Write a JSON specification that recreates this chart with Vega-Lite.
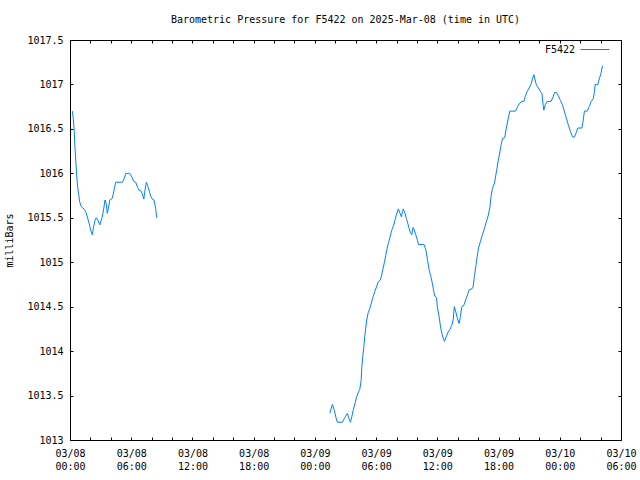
{
  "$schema": "https://vega.github.io/schema/vega-lite/v6.json",
  "width": 551,
  "height": 400,
  "autosize": {"type": "none"},
  "padding": {"left": 70, "top": 40, "right": 19, "bottom": 40},
  "background": "white",
  "title": {
    "text": "Barometric Pressure for F5422 on 2025-Mar-08 (time in UTC)",
    "font": "DejaVu Sans Mono",
    "fontSize": 10,
    "fontWeight": "normal",
    "color": "black",
    "anchor": "middle",
    "offset": 10
  },
  "config": {
    "view": {"stroke": "black", "strokeWidth": 1},
    "font": "DejaVu Sans Mono",
    "axis": {
      "labelFont": "DejaVu Sans Mono",
      "labelFontSize": 10,
      "labelColor": "black",
      "titleFont": "DejaVu Sans Mono",
      "titleFontSize": 10,
      "titleFontWeight": "normal",
      "titleColor": "black",
      "tickColor": "black",
      "tickWidth": 1,
      "domain": false,
      "grid": false
    },
    "legend": {
      "labelFont": "DejaVu Sans Mono",
      "labelFontSize": 10,
      "labelColor": "black"
    }
  },
  "data": {
    "values": [
      {"t": "2025-03-08T00:14:00Z", "p": 1016.7, "seg": 1, "station": "F5422"},
      {"t": "2025-03-08T00:19:00Z", "p": 1016.62, "seg": 1, "station": "F5422"},
      {"t": "2025-03-08T00:25:00Z", "p": 1016.47, "seg": 1, "station": "F5422"},
      {"t": "2025-03-08T00:29:00Z", "p": 1016.3, "seg": 1, "station": "F5422"},
      {"t": "2025-03-08T00:34:00Z", "p": 1016.14, "seg": 1, "station": "F5422"},
      {"t": "2025-03-08T00:39:00Z", "p": 1015.98, "seg": 1, "station": "F5422"},
      {"t": "2025-03-08T00:45:00Z", "p": 1015.85, "seg": 1, "station": "F5422"},
      {"t": "2025-03-08T00:51:00Z", "p": 1015.76, "seg": 1, "station": "F5422"},
      {"t": "2025-03-08T00:57:00Z", "p": 1015.68, "seg": 1, "station": "F5422"},
      {"t": "2025-03-08T01:03:00Z", "p": 1015.64, "seg": 1, "station": "F5422"},
      {"t": "2025-03-08T01:09:00Z", "p": 1015.62, "seg": 1, "station": "F5422"},
      {"t": "2025-03-08T01:22:00Z", "p": 1015.6, "seg": 1, "station": "F5422"},
      {"t": "2025-03-08T01:32:00Z", "p": 1015.57, "seg": 1, "station": "F5422"},
      {"t": "2025-03-08T01:42:00Z", "p": 1015.51, "seg": 1, "station": "F5422"},
      {"t": "2025-03-08T01:52:00Z", "p": 1015.44, "seg": 1, "station": "F5422"},
      {"t": "2025-03-08T02:02:00Z", "p": 1015.36, "seg": 1, "station": "F5422"},
      {"t": "2025-03-08T02:11:00Z", "p": 1015.31, "seg": 1, "station": "F5422"},
      {"t": "2025-03-08T02:19:00Z", "p": 1015.4, "seg": 1, "station": "F5422"},
      {"t": "2025-03-08T02:27:00Z", "p": 1015.47, "seg": 1, "station": "F5422"},
      {"t": "2025-03-08T02:35:00Z", "p": 1015.5, "seg": 1, "station": "F5422"},
      {"t": "2025-03-08T02:45:00Z", "p": 1015.47, "seg": 1, "station": "F5422"},
      {"t": "2025-03-08T02:55:00Z", "p": 1015.42, "seg": 1, "station": "F5422"},
      {"t": "2025-03-08T03:10:00Z", "p": 1015.51, "seg": 1, "station": "F5422"},
      {"t": "2025-03-08T03:18:00Z", "p": 1015.6, "seg": 1, "station": "F5422"},
      {"t": "2025-03-08T03:26:00Z", "p": 1015.7, "seg": 1, "station": "F5422"},
      {"t": "2025-03-08T03:34:00Z", "p": 1015.65, "seg": 1, "station": "F5422"},
      {"t": "2025-03-08T03:39:00Z", "p": 1015.55, "seg": 1, "station": "F5422"},
      {"t": "2025-03-08T03:45:00Z", "p": 1015.6, "seg": 1, "station": "F5422"},
      {"t": "2025-03-08T03:54:00Z", "p": 1015.7, "seg": 1, "station": "F5422"},
      {"t": "2025-03-08T04:09:00Z", "p": 1015.72, "seg": 1, "station": "F5422"},
      {"t": "2025-03-08T04:19:00Z", "p": 1015.81, "seg": 1, "station": "F5422"},
      {"t": "2025-03-08T04:29:00Z", "p": 1015.9, "seg": 1, "station": "F5422"},
      {"t": "2025-03-08T05:08:00Z", "p": 1015.9, "seg": 1, "station": "F5422"},
      {"t": "2025-03-08T05:18:00Z", "p": 1015.94, "seg": 1, "station": "F5422"},
      {"t": "2025-03-08T05:28:00Z", "p": 1016.0, "seg": 1, "station": "F5422"},
      {"t": "2025-03-08T05:51:00Z", "p": 1016.0, "seg": 1, "station": "F5422"},
      {"t": "2025-03-08T06:03:00Z", "p": 1015.96, "seg": 1, "station": "F5422"},
      {"t": "2025-03-08T06:15:00Z", "p": 1015.91, "seg": 1, "station": "F5422"},
      {"t": "2025-03-08T06:26:00Z", "p": 1015.9, "seg": 1, "station": "F5422"},
      {"t": "2025-03-08T06:38:00Z", "p": 1015.84, "seg": 1, "station": "F5422"},
      {"t": "2025-03-08T06:46:00Z", "p": 1015.81, "seg": 1, "station": "F5422"},
      {"t": "2025-03-08T06:58:00Z", "p": 1015.8, "seg": 1, "station": "F5422"},
      {"t": "2025-03-08T07:05:00Z", "p": 1015.77, "seg": 1, "station": "F5422"},
      {"t": "2025-03-08T07:14:00Z", "p": 1015.71, "seg": 1, "station": "F5422"},
      {"t": "2025-03-08T07:21:00Z", "p": 1015.81, "seg": 1, "station": "F5422"},
      {"t": "2025-03-08T07:29:00Z", "p": 1015.9, "seg": 1, "station": "F5422"},
      {"t": "2025-03-08T07:37:00Z", "p": 1015.86, "seg": 1, "station": "F5422"},
      {"t": "2025-03-08T07:45:00Z", "p": 1015.81, "seg": 1, "station": "F5422"},
      {"t": "2025-03-08T07:55:00Z", "p": 1015.74, "seg": 1, "station": "F5422"},
      {"t": "2025-03-08T08:04:00Z", "p": 1015.71, "seg": 1, "station": "F5422"},
      {"t": "2025-03-08T08:14:00Z", "p": 1015.7, "seg": 1, "station": "F5422"},
      {"t": "2025-03-08T08:24:00Z", "p": 1015.6, "seg": 1, "station": "F5422"},
      {"t": "2025-03-08T08:30:00Z", "p": 1015.5, "seg": 1, "station": "F5422"},
      {"t": "2025-03-09T01:28:00Z", "p": 1013.3, "seg": 2, "station": "F5422"},
      {"t": "2025-03-09T01:43:00Z", "p": 1013.4, "seg": 2, "station": "F5422"},
      {"t": "2025-03-09T01:55:00Z", "p": 1013.33, "seg": 2, "station": "F5422"},
      {"t": "2025-03-09T02:03:00Z", "p": 1013.26, "seg": 2, "station": "F5422"},
      {"t": "2025-03-09T02:12:00Z", "p": 1013.2, "seg": 2, "station": "F5422"},
      {"t": "2025-03-09T02:42:00Z", "p": 1013.2, "seg": 2, "station": "F5422"},
      {"t": "2025-03-09T02:53:00Z", "p": 1013.24, "seg": 2, "station": "F5422"},
      {"t": "2025-03-09T03:02:00Z", "p": 1013.27, "seg": 2, "station": "F5422"},
      {"t": "2025-03-09T03:11:00Z", "p": 1013.3, "seg": 2, "station": "F5422"},
      {"t": "2025-03-09T03:21:00Z", "p": 1013.24, "seg": 2, "station": "F5422"},
      {"t": "2025-03-09T03:29:00Z", "p": 1013.2, "seg": 2, "station": "F5422"},
      {"t": "2025-03-09T03:37:00Z", "p": 1013.26, "seg": 2, "station": "F5422"},
      {"t": "2025-03-09T03:46:00Z", "p": 1013.34, "seg": 2, "station": "F5422"},
      {"t": "2025-03-09T03:56:00Z", "p": 1013.41, "seg": 2, "station": "F5422"},
      {"t": "2025-03-09T04:06:00Z", "p": 1013.49, "seg": 2, "station": "F5422"},
      {"t": "2025-03-09T04:16:00Z", "p": 1013.54, "seg": 2, "station": "F5422"},
      {"t": "2025-03-09T04:24:00Z", "p": 1013.57, "seg": 2, "station": "F5422"},
      {"t": "2025-03-09T04:32:00Z", "p": 1013.67, "seg": 2, "station": "F5422"},
      {"t": "2025-03-09T04:36:00Z", "p": 1013.82, "seg": 2, "station": "F5422"},
      {"t": "2025-03-09T04:42:00Z", "p": 1013.95, "seg": 2, "station": "F5422"},
      {"t": "2025-03-09T04:48:00Z", "p": 1014.05, "seg": 2, "station": "F5422"},
      {"t": "2025-03-09T04:53:00Z", "p": 1014.16, "seg": 2, "station": "F5422"},
      {"t": "2025-03-09T04:59:00Z", "p": 1014.26, "seg": 2, "station": "F5422"},
      {"t": "2025-03-09T05:05:00Z", "p": 1014.35, "seg": 2, "station": "F5422"},
      {"t": "2025-03-09T05:13:00Z", "p": 1014.43, "seg": 2, "station": "F5422"},
      {"t": "2025-03-09T05:23:00Z", "p": 1014.48, "seg": 2, "station": "F5422"},
      {"t": "2025-03-09T05:32:00Z", "p": 1014.54, "seg": 2, "station": "F5422"},
      {"t": "2025-03-09T05:42:00Z", "p": 1014.61, "seg": 2, "station": "F5422"},
      {"t": "2025-03-09T05:52:00Z", "p": 1014.67, "seg": 2, "station": "F5422"},
      {"t": "2025-03-09T06:02:00Z", "p": 1014.72, "seg": 2, "station": "F5422"},
      {"t": "2025-03-09T06:12:00Z", "p": 1014.78, "seg": 2, "station": "F5422"},
      {"t": "2025-03-09T06:25:00Z", "p": 1014.8, "seg": 2, "station": "F5422"},
      {"t": "2025-03-09T06:33:00Z", "p": 1014.86, "seg": 2, "station": "F5422"},
      {"t": "2025-03-09T06:41:00Z", "p": 1014.93, "seg": 2, "station": "F5422"},
      {"t": "2025-03-09T06:49:00Z", "p": 1015.0, "seg": 2, "station": "F5422"},
      {"t": "2025-03-09T06:57:00Z", "p": 1015.08, "seg": 2, "station": "F5422"},
      {"t": "2025-03-09T07:05:00Z", "p": 1015.16, "seg": 2, "station": "F5422"},
      {"t": "2025-03-09T07:12:00Z", "p": 1015.21, "seg": 2, "station": "F5422"},
      {"t": "2025-03-09T07:20:00Z", "p": 1015.27, "seg": 2, "station": "F5422"},
      {"t": "2025-03-09T07:28:00Z", "p": 1015.33, "seg": 2, "station": "F5422"},
      {"t": "2025-03-09T07:36:00Z", "p": 1015.38, "seg": 2, "station": "F5422"},
      {"t": "2025-03-09T07:44:00Z", "p": 1015.42, "seg": 2, "station": "F5422"},
      {"t": "2025-03-09T07:52:00Z", "p": 1015.48, "seg": 2, "station": "F5422"},
      {"t": "2025-03-09T07:59:00Z", "p": 1015.53, "seg": 2, "station": "F5422"},
      {"t": "2025-03-09T08:11:00Z", "p": 1015.6, "seg": 2, "station": "F5422"},
      {"t": "2025-03-09T08:21:00Z", "p": 1015.55, "seg": 2, "station": "F5422"},
      {"t": "2025-03-09T08:29:00Z", "p": 1015.51, "seg": 2, "station": "F5422"},
      {"t": "2025-03-09T08:35:00Z", "p": 1015.57, "seg": 2, "station": "F5422"},
      {"t": "2025-03-09T08:40:00Z", "p": 1015.6, "seg": 2, "station": "F5422"},
      {"t": "2025-03-09T08:50:00Z", "p": 1015.55, "seg": 2, "station": "F5422"},
      {"t": "2025-03-09T08:58:00Z", "p": 1015.49, "seg": 2, "station": "F5422"},
      {"t": "2025-03-09T09:06:00Z", "p": 1015.44, "seg": 2, "station": "F5422"},
      {"t": "2025-03-09T09:14:00Z", "p": 1015.38, "seg": 2, "station": "F5422"},
      {"t": "2025-03-09T09:22:00Z", "p": 1015.33, "seg": 2, "station": "F5422"},
      {"t": "2025-03-09T09:30:00Z", "p": 1015.31, "seg": 2, "station": "F5422"},
      {"t": "2025-03-09T09:37:00Z", "p": 1015.39, "seg": 2, "station": "F5422"},
      {"t": "2025-03-09T09:43:00Z", "p": 1015.37, "seg": 2, "station": "F5422"},
      {"t": "2025-03-09T09:53:00Z", "p": 1015.31, "seg": 2, "station": "F5422"},
      {"t": "2025-03-09T10:03:00Z", "p": 1015.25, "seg": 2, "station": "F5422"},
      {"t": "2025-03-09T10:09:00Z", "p": 1015.2, "seg": 2, "station": "F5422"},
      {"t": "2025-03-09T10:42:00Z", "p": 1015.2, "seg": 2, "station": "F5422"},
      {"t": "2025-03-09T10:52:00Z", "p": 1015.14, "seg": 2, "station": "F5422"},
      {"t": "2025-03-09T11:02:00Z", "p": 1015.03, "seg": 2, "station": "F5422"},
      {"t": "2025-03-09T11:12:00Z", "p": 1014.91, "seg": 2, "station": "F5422"},
      {"t": "2025-03-09T11:22:00Z", "p": 1014.84, "seg": 2, "station": "F5422"},
      {"t": "2025-03-09T11:31:00Z", "p": 1014.76, "seg": 2, "station": "F5422"},
      {"t": "2025-03-09T11:37:00Z", "p": 1014.69, "seg": 2, "station": "F5422"},
      {"t": "2025-03-09T11:45:00Z", "p": 1014.62, "seg": 2, "station": "F5422"},
      {"t": "2025-03-09T11:55:00Z", "p": 1014.6, "seg": 2, "station": "F5422"},
      {"t": "2025-03-09T12:00:00Z", "p": 1014.5, "seg": 2, "station": "F5422"},
      {"t": "2025-03-09T12:10:00Z", "p": 1014.39, "seg": 2, "station": "F5422"},
      {"t": "2025-03-09T12:20:00Z", "p": 1014.26, "seg": 2, "station": "F5422"},
      {"t": "2025-03-09T12:30:00Z", "p": 1014.17, "seg": 2, "station": "F5422"},
      {"t": "2025-03-09T12:42:00Z", "p": 1014.11, "seg": 2, "station": "F5422"},
      {"t": "2025-03-09T12:50:00Z", "p": 1014.15, "seg": 2, "station": "F5422"},
      {"t": "2025-03-09T13:02:00Z", "p": 1014.21, "seg": 2, "station": "F5422"},
      {"t": "2025-03-09T13:13:00Z", "p": 1014.24, "seg": 2, "station": "F5422"},
      {"t": "2025-03-09T13:25:00Z", "p": 1014.29, "seg": 2, "station": "F5422"},
      {"t": "2025-03-09T13:33:00Z", "p": 1014.35, "seg": 2, "station": "F5422"},
      {"t": "2025-03-09T13:40:00Z", "p": 1014.5, "seg": 2, "station": "F5422"},
      {"t": "2025-03-09T13:49:00Z", "p": 1014.44, "seg": 2, "station": "F5422"},
      {"t": "2025-03-09T13:58:00Z", "p": 1014.37, "seg": 2, "station": "F5422"},
      {"t": "2025-03-09T14:08:00Z", "p": 1014.31, "seg": 2, "station": "F5422"},
      {"t": "2025-03-09T14:16:00Z", "p": 1014.39, "seg": 2, "station": "F5422"},
      {"t": "2025-03-09T14:24:00Z", "p": 1014.5, "seg": 2, "station": "F5422"},
      {"t": "2025-03-09T14:37:00Z", "p": 1014.52, "seg": 2, "station": "F5422"},
      {"t": "2025-03-09T14:47:00Z", "p": 1014.58, "seg": 2, "station": "F5422"},
      {"t": "2025-03-09T14:57:00Z", "p": 1014.63, "seg": 2, "station": "F5422"},
      {"t": "2025-03-09T15:07:00Z", "p": 1014.69, "seg": 2, "station": "F5422"},
      {"t": "2025-03-09T15:23:00Z", "p": 1014.7, "seg": 2, "station": "F5422"},
      {"t": "2025-03-09T15:30:00Z", "p": 1014.72, "seg": 2, "station": "F5422"},
      {"t": "2025-03-09T15:38:00Z", "p": 1014.84, "seg": 2, "station": "F5422"},
      {"t": "2025-03-09T15:46:00Z", "p": 1014.95, "seg": 2, "station": "F5422"},
      {"t": "2025-03-09T15:54:00Z", "p": 1015.06, "seg": 2, "station": "F5422"},
      {"t": "2025-03-09T16:02:00Z", "p": 1015.16, "seg": 2, "station": "F5422"},
      {"t": "2025-03-09T16:13:00Z", "p": 1015.23, "seg": 2, "station": "F5422"},
      {"t": "2025-03-09T16:25:00Z", "p": 1015.31, "seg": 2, "station": "F5422"},
      {"t": "2025-03-09T16:37:00Z", "p": 1015.38, "seg": 2, "station": "F5422"},
      {"t": "2025-03-09T16:49:00Z", "p": 1015.46, "seg": 2, "station": "F5422"},
      {"t": "2025-03-09T17:00:00Z", "p": 1015.53, "seg": 2, "station": "F5422"},
      {"t": "2025-03-09T17:09:00Z", "p": 1015.62, "seg": 2, "station": "F5422"},
      {"t": "2025-03-09T17:16:00Z", "p": 1015.74, "seg": 2, "station": "F5422"},
      {"t": "2025-03-09T17:24:00Z", "p": 1015.83, "seg": 2, "station": "F5422"},
      {"t": "2025-03-09T17:36:00Z", "p": 1015.89, "seg": 2, "station": "F5422"},
      {"t": "2025-03-09T17:44:00Z", "p": 1015.98, "seg": 2, "station": "F5422"},
      {"t": "2025-03-09T17:52:00Z", "p": 1016.07, "seg": 2, "station": "F5422"},
      {"t": "2025-03-09T17:59:00Z", "p": 1016.15, "seg": 2, "station": "F5422"},
      {"t": "2025-03-09T18:08:00Z", "p": 1016.24, "seg": 2, "station": "F5422"},
      {"t": "2025-03-09T18:15:00Z", "p": 1016.32, "seg": 2, "station": "F5422"},
      {"t": "2025-03-09T18:23:00Z", "p": 1016.39, "seg": 2, "station": "F5422"},
      {"t": "2025-03-09T18:36:00Z", "p": 1016.4, "seg": 2, "station": "F5422"},
      {"t": "2025-03-09T18:45:00Z", "p": 1016.5, "seg": 2, "station": "F5422"},
      {"t": "2025-03-09T18:55:00Z", "p": 1016.6, "seg": 2, "station": "F5422"},
      {"t": "2025-03-09T19:06:00Z", "p": 1016.7, "seg": 2, "station": "F5422"},
      {"t": "2025-03-09T19:39:00Z", "p": 1016.7, "seg": 2, "station": "F5422"},
      {"t": "2025-03-09T19:52:00Z", "p": 1016.75, "seg": 2, "station": "F5422"},
      {"t": "2025-03-09T20:05:00Z", "p": 1016.79, "seg": 2, "station": "F5422"},
      {"t": "2025-03-09T20:17:00Z", "p": 1016.81, "seg": 2, "station": "F5422"},
      {"t": "2025-03-09T20:29:00Z", "p": 1016.81, "seg": 2, "station": "F5422"},
      {"t": "2025-03-09T20:36:00Z", "p": 1016.86, "seg": 2, "station": "F5422"},
      {"t": "2025-03-09T20:48:00Z", "p": 1016.92, "seg": 2, "station": "F5422"},
      {"t": "2025-03-09T21:00:00Z", "p": 1016.96, "seg": 2, "station": "F5422"},
      {"t": "2025-03-09T21:12:00Z", "p": 1017.01, "seg": 2, "station": "F5422"},
      {"t": "2025-03-09T21:19:00Z", "p": 1017.06, "seg": 2, "station": "F5422"},
      {"t": "2025-03-09T21:28:00Z", "p": 1017.11, "seg": 2, "station": "F5422"},
      {"t": "2025-03-09T21:35:00Z", "p": 1017.05, "seg": 2, "station": "F5422"},
      {"t": "2025-03-09T21:43:00Z", "p": 1016.99, "seg": 2, "station": "F5422"},
      {"t": "2025-03-09T21:55:00Z", "p": 1016.96, "seg": 2, "station": "F5422"},
      {"t": "2025-03-09T22:06:00Z", "p": 1016.92, "seg": 2, "station": "F5422"},
      {"t": "2025-03-09T22:15:00Z", "p": 1016.9, "seg": 2, "station": "F5422"},
      {"t": "2025-03-09T22:22:00Z", "p": 1016.77, "seg": 2, "station": "F5422"},
      {"t": "2025-03-09T22:26:00Z", "p": 1016.71, "seg": 2, "station": "F5422"},
      {"t": "2025-03-09T22:34:00Z", "p": 1016.77, "seg": 2, "station": "F5422"},
      {"t": "2025-03-09T22:46:00Z", "p": 1016.81, "seg": 2, "station": "F5422"},
      {"t": "2025-03-09T23:09:00Z", "p": 1016.81, "seg": 2, "station": "F5422"},
      {"t": "2025-03-09T23:21:00Z", "p": 1016.86, "seg": 2, "station": "F5422"},
      {"t": "2025-03-09T23:29:00Z", "p": 1016.91, "seg": 2, "station": "F5422"},
      {"t": "2025-03-09T23:40:00Z", "p": 1016.91, "seg": 2, "station": "F5422"},
      {"t": "2025-03-09T23:52:00Z", "p": 1016.87, "seg": 2, "station": "F5422"},
      {"t": "2025-03-10T00:04:00Z", "p": 1016.82, "seg": 2, "station": "F5422"},
      {"t": "2025-03-10T00:16:00Z", "p": 1016.77, "seg": 2, "station": "F5422"},
      {"t": "2025-03-10T00:28:00Z", "p": 1016.69, "seg": 2, "station": "F5422"},
      {"t": "2025-03-10T00:39:00Z", "p": 1016.62, "seg": 2, "station": "F5422"},
      {"t": "2025-03-10T00:51:00Z", "p": 1016.54, "seg": 2, "station": "F5422"},
      {"t": "2025-03-10T01:03:00Z", "p": 1016.47, "seg": 2, "station": "F5422"},
      {"t": "2025-03-10T01:15:00Z", "p": 1016.41, "seg": 2, "station": "F5422"},
      {"t": "2025-03-10T01:26:00Z", "p": 1016.41, "seg": 2, "station": "F5422"},
      {"t": "2025-03-10T01:35:00Z", "p": 1016.45, "seg": 2, "station": "F5422"},
      {"t": "2025-03-10T01:46:00Z", "p": 1016.51, "seg": 2, "station": "F5422"},
      {"t": "2025-03-10T02:10:00Z", "p": 1016.51, "seg": 2, "station": "F5422"},
      {"t": "2025-03-10T02:18:00Z", "p": 1016.6, "seg": 2, "station": "F5422"},
      {"t": "2025-03-10T02:25:00Z", "p": 1016.7, "seg": 2, "station": "F5422"},
      {"t": "2025-03-10T02:41:00Z", "p": 1016.7, "seg": 2, "station": "F5422"},
      {"t": "2025-03-10T02:53:00Z", "p": 1016.75, "seg": 2, "station": "F5422"},
      {"t": "2025-03-10T03:05:00Z", "p": 1016.81, "seg": 2, "station": "F5422"},
      {"t": "2025-03-10T03:17:00Z", "p": 1016.84, "seg": 2, "station": "F5422"},
      {"t": "2025-03-10T03:24:00Z", "p": 1016.92, "seg": 2, "station": "F5422"},
      {"t": "2025-03-10T03:28:00Z", "p": 1017.0, "seg": 2, "station": "F5422"},
      {"t": "2025-03-10T03:44:00Z", "p": 1017.0, "seg": 2, "station": "F5422"},
      {"t": "2025-03-10T03:52:00Z", "p": 1017.06, "seg": 2, "station": "F5422"},
      {"t": "2025-03-10T04:02:00Z", "p": 1017.12, "seg": 2, "station": "F5422"},
      {"t": "2025-03-10T04:11:00Z", "p": 1017.21, "seg": 2, "station": "F5422"}
    ]
  },
  "layer": [
    {
      "mark": {"type": "line", "strokeWidth": 1, "interpolate": "linear"},
      "encoding": {
        "x": {
          "field": "t",
          "type": "temporal",
          "scale": {
            "type": "utc",
            "nice": false,
            "domain": [1741392000000, 1741586400000]
          },
          "axis": {
            "orient": "bottom",
            "title": null,
            "values": [1741392000000, 1741399200000, 1741406400000, 1741413600000, 1741420800000, 1741428000000, 1741435200000, 1741442400000, 1741449600000, 1741456800000, 1741464000000, 1741471200000, 1741478400000, 1741485600000, 1741492800000, 1741500000000, 1741507200000, 1741514400000, 1741521600000, 1741528800000, 1741536000000, 1741543200000, 1741550400000, 1741557600000, 1741564800000, 1741572000000, 1741579200000, 1741586400000],
            "tickSize": -3,
            "labelPadding": 11,
            "labelOverlap": false,
            "labelFlush": false,
            "labelBound": false,
            "labelLineHeight": 13,
            "labelExpr": "utchours(datum.value) % 6 == 0 ? [utcFormat(datum.value, '%m/%d'), utcFormat(datum.value, '%H:%M')] : ''"
          }
        },
        "y": {
          "field": "p",
          "type": "quantitative",
          "scale": {"domain": [1013, 1017.5], "nice": false, "zero": false},
          "axis": {
            "orient": "left",
            "title": "milliBars",
            "values": [1013, 1013.5, 1014, 1014.5, 1015, 1015.5, 1016, 1016.5, 1017, 1017.5],
            "format": ".1~f",
            "tickSize": -3,
            "labelPadding": 10,
            "labelOverlap": false,
            "labelFlush": false,
            "labelBound": false,
            "titlePadding": 12
          }
        },
        "detail": {"field": "seg", "type": "nominal"},
        "color": {
          "field": "station",
          "type": "nominal",
          "scale": {"range": ["#0080ff"]},
          "legend": {
            "title": null,
            "orient": "none",
            "legendX": 510,
            "legendY": -5.5,
            "symbolType": "stroke",
            "symbolSize": 841,
            "symbolStrokeWidth": 1,
            "labelAlign": "right",
            "labelOffset": -35,
            "padding": 0
          }
        }
      }
    },
    {
      "mark": {"type": "line", "strokeOpacity": 0},
      "encoding": {
        "x": {
          "field": "t",
          "type": "temporal",
          "axis": {
            "orient": "top",
            "title": null,
            "values": [1741392000000, 1741399200000, 1741406400000, 1741413600000, 1741420800000, 1741428000000, 1741435200000, 1741442400000, 1741449600000, 1741456800000, 1741464000000, 1741471200000, 1741478400000, 1741485600000, 1741492800000, 1741500000000, 1741507200000, 1741514400000, 1741521600000, 1741528800000, 1741536000000, 1741543200000, 1741550400000, 1741557600000, 1741564800000, 1741572000000, 1741579200000, 1741586400000],
            "tickSize": -3,
            "labels": false
          }
        },
        "y": {
          "field": "p",
          "type": "quantitative",
          "axis": {
            "orient": "right",
            "title": null,
            "values": [1013, 1013.5, 1014, 1014.5, 1015, 1015.5, 1016, 1016.5, 1017, 1017.5],
            "tickSize": -3,
            "labels": false
          }
        },
        "detail": {"field": "seg", "type": "nominal"}
      }
    }
  ],
  "resolve": {"axis": {"x": "independent", "y": "independent"}}
}
